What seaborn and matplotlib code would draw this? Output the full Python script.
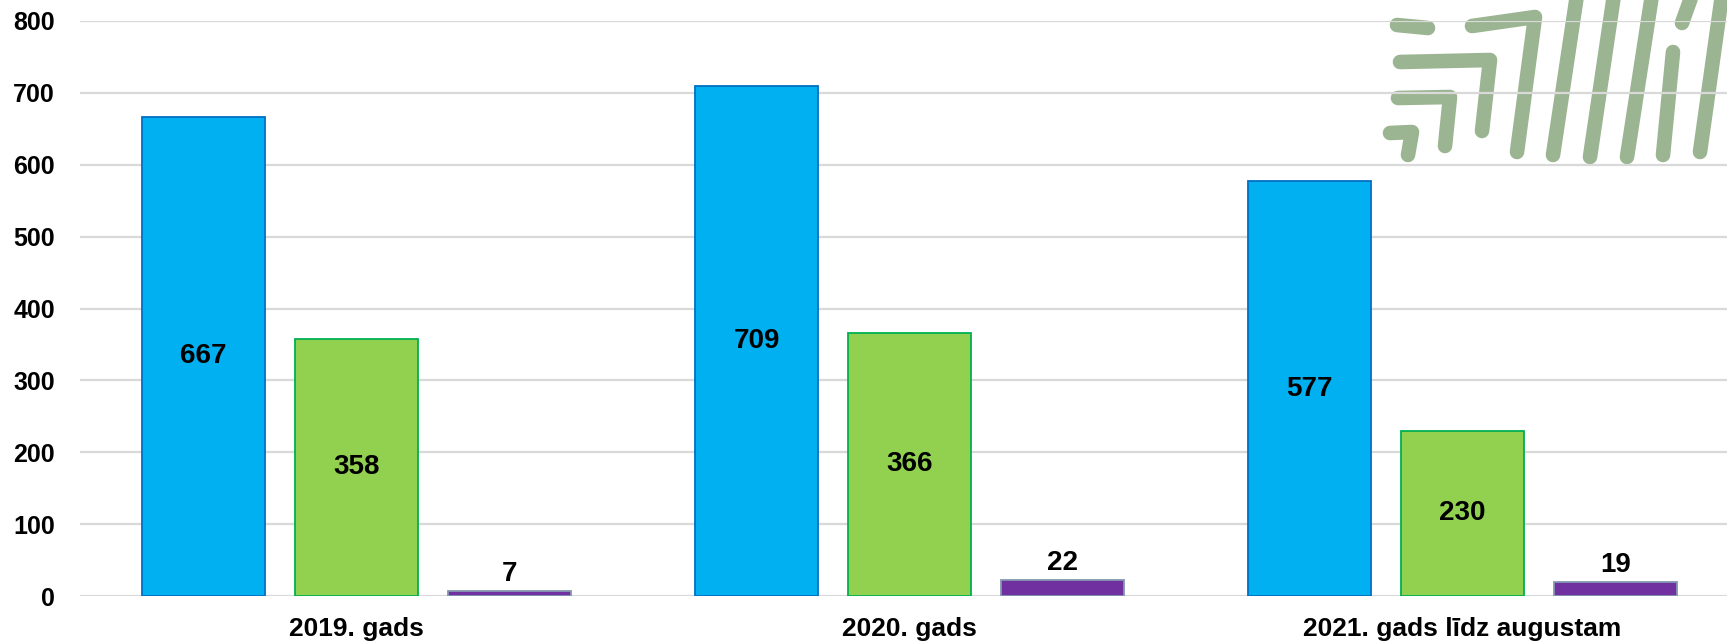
import matplotlib
matplotlib.use("Agg")
import matplotlib.pyplot as plt
from matplotlib.lines import Line2D
import seaborn as sns
import pandas as pd

categories = ["2019. gads", "2020. gads", "2021. gads līdz augustam"]
series_names = ["Sērija 1", "Sērija 2", "Sērija 3"]
series1 = [667, 709, 577]
series2 = [358, 366, 230]
series3 = [7, 22, 19]
yticks = [0, 100, 200, 300, 400, 500, 600, 700, 800]

fills = ["#00B0F0", "#92D050", "#7030A0"]
edges = ["#0070C0", "#00B050", "#8497B0"]

rows = []
for name, vals in zip(series_names, [series1, series2, series3]):
    for c, v in zip(categories, vals):
        rows.append({"cat": c, "series": name, "value": v})
df = pd.DataFrame(rows)

sns.set_theme(style="white")
plt.rcParams["font.family"] = ["Liberation Sans", "DejaVu Sans"]
plt.rcParams["font.weight"] = "bold"
plt.rcParams["text.color"] = "black"
plt.rcParams["xtick.color"] = "black"
plt.rcParams["ytick.color"] = "black"

W, H = 1727, 642
fig = plt.figure(figsize=(W / 100, H / 100), dpi=100)
ax = fig.add_axes([80 / W, (H - 596) / H, 3 * 553 / W, (596 - 21) / H])
ax.set_facecolor("none")

sns.barplot(data=df, x="cat", y="value", hue="series", order=categories,
            hue_order=series_names, palette=fills, saturation=1, width=0.83, gap=0.19,
            legend=False, ax=ax, zorder=3)

for i, cont in enumerate(ax.containers):
    for p in cont:
        p.set_edgecolor(edges[i])
        p.set_linewidth(1.3)
    if i < 2:
        ax.bar_label(cont, label_type="center", fontsize=20, fontweight="bold", color="black")
    else:
        ax.bar_label(cont, label_type="edge", padding=3, fontsize=20, fontweight="bold", color="black")

ax.set_ylim(0, 800)
ax.set_yticks(yticks)
ax.set_yticklabels([str(t) for t in yticks], fontsize=18, fontweight="bold", color="black")
ax.set_xlabel("")
ax.set_ylabel("")
ax.tick_params(axis="y", length=0, pad=18, labelcolor="black")
ax.tick_params(axis="x", length=0, pad=15, labelsize=19, labelcolor="black")
for lbl in ax.get_xticklabels():
    lbl.set_fontweight("bold")
ax.yaxis.grid(True, color="#D9D9D9", linewidth=1.6, zorder=0)
ax.set_axisbelow(True)
for s in ax.spines.values():
    s.set_visible(False)

# decorative logo (top right), drawn behind the grid
logo = [
    [(1397, 25), (1428, 28)],
    [(1472, 26), (1535, 17), (1517, 152)],
    [(1400, 62), (1490, 60), (1482, 131)],
    [(1398, 98), (1450, 97), (1445, 146)],
    [(1390, 133), (1412, 132), (1408, 155)],
    [(1577, -5), (1553, 155)],
    [(1614, -5), (1590, 157)],
    [(1652, -5), (1627, 157)],
    [(1673, 52), (1663, 155)],
    [(1692, -5), (1682, 23)],
    [(1722, -5), (1700, 152)],
]
for pts in logo:
    xs = [p[0] / W for p in pts]
    ys = [1 - p[1] / H for p in pts]
    fig.add_artist(Line2D(xs, ys, transform=fig.transFigure, color="#9BB492",
                          linewidth=10.5, solid_capstyle="round",
                          solid_joinstyle="round", zorder=-1))

fig.savefig("out.png", dpi=100, facecolor="white")
